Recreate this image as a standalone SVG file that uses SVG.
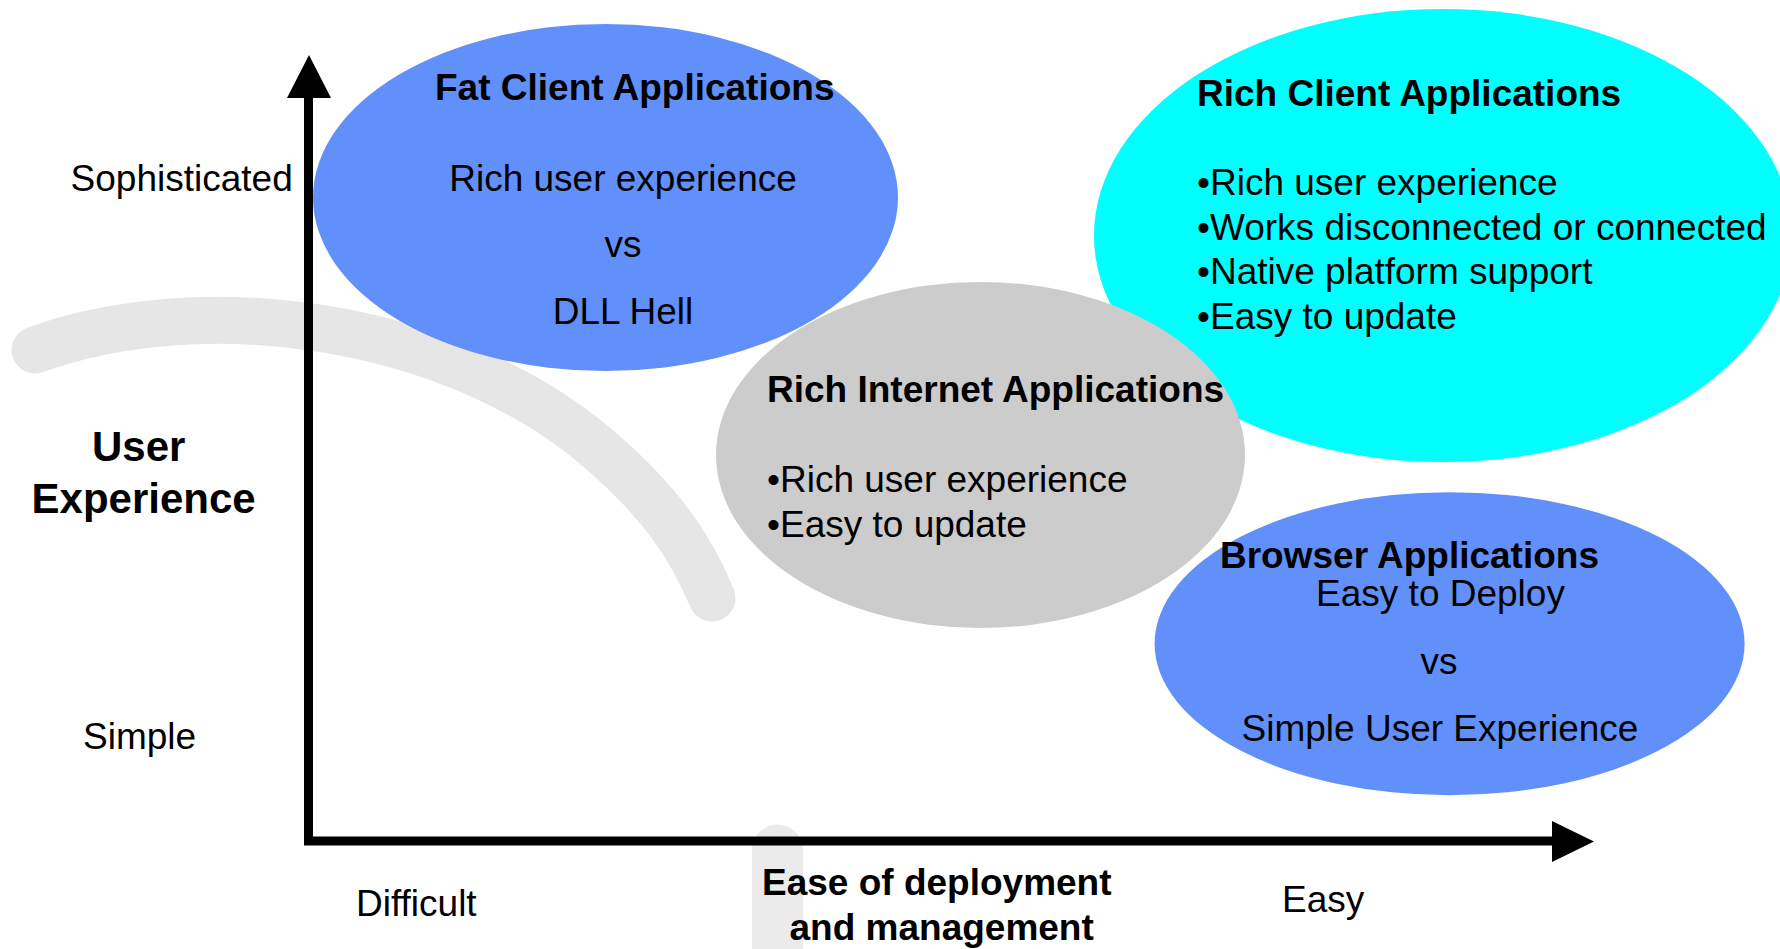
<svg xmlns="http://www.w3.org/2000/svg" width="1780" height="949" viewBox="0 0 1780 949">
<style>
  text { font-family: "Liberation Sans", Arial, sans-serif; fill: #000; }
  .r { font-size: 37px; }
  .b { font-size: 37px; font-weight: bold; }
  .big { font-size: 42px; font-weight: bold; }
  .m { text-anchor: middle; }
  .swoosh { fill: none; stroke: #E6E6E6; stroke-width: 47; stroke-linecap: round; }
  .axis { stroke: #000; stroke-width: 9; fill: none; }
</style>
<rect width="1780" height="949" fill="#ffffff"/>
<g id="background">
  <path class="swoosh" d="M 35 350 C 200 290, 450 320, 600 450 C 660 502, 690 545, 712 598"/>
  <path class="swoosh" d="M 777.5 850 L 777.5 980" stroke="#EBEBEB" style="stroke:#EBEBEB;stroke-width:51"/>
</g>
<g id="fat-client">
  <ellipse cx="605.5" cy="197.5" rx="292.5" ry="173.5" fill="#6290FA"/>
  <text class="b" x="435" y="100">Fat Client Applications</text>
  <text class="r m" x="623" y="191">Rich user experience</text>
  <text class="r m" x="623" y="257">vs</text>
  <text class="r m" x="623" y="324">DLL Hell</text>
</g>
<g id="rich-client">
  <ellipse cx="1443" cy="235.5" rx="349" ry="226.5" fill="#00FFFF"/>
  <text class="b" x="1197" y="106">Rich Client Applications</text>
  <text class="r" x="1197" y="195">•Rich user experience</text>
  <text class="r" x="1197" y="239.5">•Works disconnected or connected</text>
  <text class="r" x="1197" y="284">•Native platform support</text>
  <text class="r" x="1197" y="328.5">•Easy to update</text>
</g>
<g id="rich-internet">
  <ellipse cx="980.5" cy="455" rx="264.5" ry="173" fill="#CCCCCC"/>
  <text class="b" x="767" y="402">Rich Internet Applications</text>
  <text class="r" x="767" y="492">•Rich user experience</text>
  <text class="r" x="767" y="537">•Easy to update</text>
</g>
<g id="browser">
  <ellipse cx="1449.6" cy="643.7" rx="295" ry="151.5" fill="#6290FA"/>
  <text class="b" x="1220" y="568">Browser Applications</text>
  <text class="r m" x="1440.5" y="606">Easy to Deploy</text>
  <text class="r m" x="1439" y="674">vs</text>
  <text class="r m" x="1440" y="741">Simple User Experience</text>
</g>
<g id="connectors">
  <line class="axis" x1="308.5" y1="95" x2="308.5" y2="841"/>
  <polygon points="309,55 287,98 331,98" fill="#000"/>
  <line class="axis" x1="304" y1="841" x2="1555" y2="841"/>
  <polygon points="1552,821 1594,841.5 1552,862" fill="#000"/>
</g>
<g id="labels">
  <text class="r" x="70.6" y="191">Sophisticated</text>
  <text class="big" x="92" y="461">User</text>
  <text class="big" x="31.6" y="512.5">Experience</text>
  <text class="r" x="83" y="749">Simple</text>
  <text class="r" x="356" y="915.5">Difficult</text>
  <text class="b" x="762" y="895">Ease of deployment</text>
  <text class="b" x="789.5" y="940">and management</text>
  <text class="r" x="1282" y="912">Easy</text>
</g>
</svg>
